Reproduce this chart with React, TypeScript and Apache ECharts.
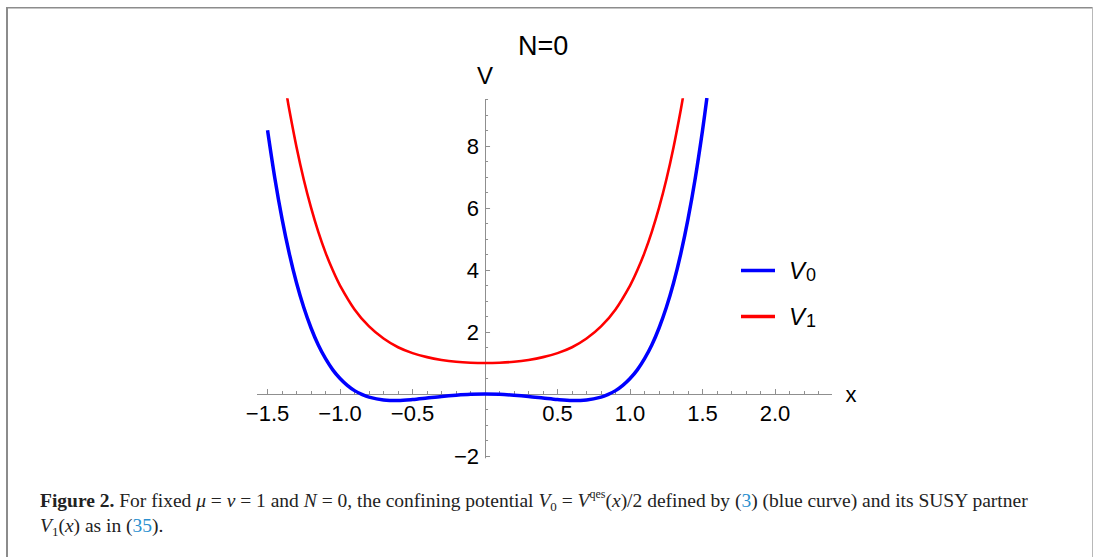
import React, { useEffect, useRef } from 'react';
import * as echarts from 'echarts';

// V0 (blue) sampled from the figure
const blueX = [-1.5, -1.45, -1.4, -1.35, -1.3, -1.25, -1.2, -1.15, -1.1, -1.05, -1.0, -0.95, -0.9, -0.85, -0.8, -0.7, -0.6, -0.5, -0.4, -0.3, -0.2, -0.1, 0,
  0.1, 0.2, 0.3, 0.4, 0.5, 0.6, 0.7, 0.8, 0.85, 0.9, 0.95, 1.0, 1.05, 1.1, 1.15, 1.2, 1.25, 1.3, 1.35, 1.4, 1.45, 1.5, 1.53];
const blueV = [8.51, 6.97, 5.65, 4.53, 3.58, 2.79, 2.13, 1.58, 1.14, 0.78, 0.5, 0.28, 0.11, -0.01, -0.1, -0.19, -0.21, -0.18, -0.13, -0.08, -0.04, -0.01, 0,
  -0.01, -0.04, -0.08, -0.13, -0.18, -0.21, -0.19, -0.1, -0.01, 0.11, 0.28, 0.5, 0.78, 1.14, 1.58, 2.13, 2.79, 3.58, 4.53, 5.65, 6.97, 8.51, 9.55];

// V1 (red) sampled from the figure
const redX = [-1.37, -1.35, -1.3, -1.25, -1.2, -1.15, -1.1, -1.05, -1.0, -0.9, -0.8, -0.7, -0.6, -0.5, -0.4, -0.3, -0.2, -0.1, 0,
  0.1, 0.2, 0.3, 0.4, 0.5, 0.6, 0.7, 0.8, 0.9, 1.0, 1.05, 1.1, 1.15, 1.2, 1.25, 1.3, 1.35, 1.37];
const redV = [9.71, 9.17, 7.96, 6.91, 6.01, 5.23, 4.56, 3.99, 3.5, 2.73, 2.18, 1.79, 1.51, 1.32, 1.19, 1.1, 1.04, 1.01, 1.0,
  1.01, 1.04, 1.1, 1.19, 1.32, 1.51, 1.79, 2.18, 2.73, 3.5, 3.99, 4.56, 5.23, 6.01, 6.91, 7.96, 9.17, 9.71];

const seriesNames = ['V0', 'V1'];
const titleText = 'N=0';

const xLabelTicks = [-1.5, -1, -0.5, 0.5, 1, 1.5, 2];
const xMinorTicks = [-1.5, -1.4, -1.3, -1.2, -1.1, -1.0, -0.9, -0.8, -0.7, -0.6, -0.5, -0.4, -0.3, -0.2, -0.1,
  0.1, 0.2, 0.3, 0.4, 0.5, 0.6, 0.7, 0.8, 0.9, 1.0, 1.1, 1.2, 1.3, 1.4, 1.5, 1.6, 1.7, 1.8, 1.9, 2.0, 2.1, 2.2, 2.3];
const yLabelTicks = [-2, 2, 4, 6, 8];
const yMinorTicks = [-2, -1.5, -1, -0.5, 0.5, 1, 1.5, 2, 2.5, 3, 3.5, 4, 4.5, 5, 5.5, 6, 6.5, 7, 7.5, 8, 8.5, 9, 9.5];

const X_MIN = -1.57, X_MAX = 2.39, Y_MIN = -2.06, Y_MAX = 9.5;

const AXIS_GRAY = '#8f8f8f';
const SANS = 'Liberation Sans, Arial, sans-serif';
const SERIF = 'Liberation Serif, Times New Roman, serif';

const fmtX = (v: number) => (v < 0 ? '\u2212' : '') + Math.abs(v).toFixed(1);
const fmtY = (v: number) => (v < 0 ? '\u2212' : '') + Math.abs(v).toString();

// grid geometry (pixels)
const G_LEFT = 257.4, G_RIGHT_X = 831.6, G_TOP = 99.5, G_BOTTOM_Y = 457.9;

export default function App() {
  const ref = useRef<HTMLDivElement>(null);

  useEffect(() => {
    if (!ref.current) return;
    const chart = echarts.init(ref.current, null, { renderer: 'svg' });

    const blueData = blueX.map((x, i) => [x, blueV[i]]);
    const redData = redX.map((x, i) => [x, redV[i]]);

    // offsets that move the axes onto the zero lines of the other axis
    const plotW = G_RIGHT_X - G_LEFT;
    const plotH = G_BOTTOM_Y - G_TOP;
    const zeroXpx = G_LEFT + ((0 - X_MIN) / (X_MAX - X_MIN)) * plotW;
    const zeroYpx = G_TOP + ((Y_MAX - 0) / (Y_MAX - Y_MIN)) * plotH;
    const xOffset = -(G_BOTTOM_Y - zeroYpx);
    const yOffset = -(zeroXpx - G_LEFT);

    const commonX = {
      type: 'value',
      min: X_MIN,
      max: X_MAX,
      position: 'bottom',
      offset: xOffset,
      splitLine: { show: false },
    };
    const commonY = {
      type: 'value',
      min: Y_MIN,
      max: Y_MAX,
      position: 'left',
      offset: yOffset,
      splitLine: { show: false },
    };

    const caption1 =
      '{b|Figure 2.}{r| For fixed }{i|\u03bc}{r| = }{i|\u03bd}{r| = 1 and }{i|N}{r| = 0, the confining potential }' +
      '{i|V}{sub|0}{r| = }{i|V}{sup|qes}{r|(}{i|x}{r|)/2 defined by (}{l|3}{r|) (blue curve) and its SUSY partner}';
    const caption2 = '{i|V}{sub|1}{r|(}{i|x}{r|) as in (}{l|35}{r|).}';

    const capFont = 19.5;
    const option: any = {
      animation: false,
      textStyle: { fontFamily: SANS },
      title: {
        text: titleText,
        left: 513,
        top: 27,
        textStyle: { fontFamily: SANS, fontSize: 27, fontWeight: 'normal', color: '#000' },
      },
      legend: {
        orient: 'vertical',
        left: 741,
        top: 257,
        padding: 0,
        itemWidth: 34,
        itemHeight: 3.5,
        itemGap: 19,
        icon: 'rect',
        selectedMode: false,
        data: seriesNames,
        formatter: (name: string) => `{v|V}{s|${name.slice(1)}}`,
        textStyle: {
          rich: {
            v: { fontFamily: SANS, fontStyle: 'italic', fontSize: 24, color: '#000', padding: [0, 1, 0, 9], lineHeight: 30 },
            s: { fontFamily: SANS, fontSize: 18, color: '#000', padding: [9, 0, 0, 0], lineHeight: 18 },
          },
        },
      },
      grid: {
        left: G_LEFT,
        right: 1095 - G_RIGHT_X,
        top: G_TOP,
        bottom: 557 - G_BOTTOM_Y,
        containLabel: false,
      },
      xAxis: [
        {
          ...commonX,
          name: 'x',
          nameLocation: 'end',
          nameGap: 14,
          nameTextStyle: { fontFamily: SANS, fontSize: 22, color: '#000', verticalAlign: 'middle' },
          axisLine: { show: true, onZero: false, lineStyle: { color: AXIS_GRAY, width: 1 } },
          axisTick: { show: true, inside: true, length: 5, customValues: xLabelTicks, lineStyle: { color: AXIS_GRAY } },
          axisLabel: { show: true, customValues: xLabelTicks, formatter: fmtX, fontFamily: SANS, fontSize: 22, color: '#000', margin: 8 },
        },
        {
          ...commonX,
          axisLine: { show: false, onZero: false },
          axisTick: { show: true, inside: true, length: 3, customValues: xMinorTicks, lineStyle: { color: AXIS_GRAY } },
          axisLabel: { show: false },
        },
      ],
      yAxis: [
        {
          ...commonY,
          name: 'V',
          nameLocation: 'end',
          nameGap: 12,
          nameTextStyle: { fontFamily: SANS, fontSize: 24, color: '#000' },
          axisLine: { show: true, onZero: false, lineStyle: { color: AXIS_GRAY, width: 1 } },
          axisTick: { show: true, inside: true, length: 5, customValues: yLabelTicks, lineStyle: { color: AXIS_GRAY } },
          axisLabel: { show: true, customValues: yLabelTicks, formatter: fmtY, fontFamily: SANS, fontSize: 22, color: '#000', margin: 6 },
        },
        {
          ...commonY,
          axisLine: { show: false, onZero: false },
          axisTick: { show: true, inside: true, length: 3, customValues: yMinorTicks, lineStyle: { color: AXIS_GRAY } },
          axisLabel: { show: false },
        },
      ],
      series: [
        {
          name: seriesNames[0],
          type: 'line',
          xAxisIndex: 0,
          yAxisIndex: 0,
          data: blueData,
          showSymbol: false,
          smooth: 0.3,
          clip: true,
          color: '#0000ff',
          lineStyle: { color: '#0000ff', width: 3.5 },
          z: 3,
        },
        {
          name: seriesNames[1],
          type: 'line',
          xAxisIndex: 0,
          yAxisIndex: 0,
          data: redData,
          showSymbol: false,
          smooth: 0.3,
          clip: true,
          color: '#ff0000',
          lineStyle: { color: '#ff0000', width: 2.6 },
          z: 2,
        },
      ],
      graphic: [
        { type: 'rect', shape: { x: 6, y: 7, width: 1087, height: 1.5 }, style: { fill: '#8c8c8c' }, silent: true },
        { type: 'rect', shape: { x: 6, y: 7, width: 2, height: 560 }, style: { fill: '#8c8c8c' }, silent: true },
        { type: 'rect', shape: { x: 1092, y: 7, width: 1, height: 560 }, style: { fill: '#b8b8b8' }, silent: true },
        {
          type: 'text',
          left: 40,
          top: 488,
          silent: true,
          style: {
            text: caption1 + '\n' + caption2,
            fill: '#222',
            font: `${capFont}px ${SERIF}`,
            rich: {
              r: { fontFamily: SERIF, fontSize: capFont, lineHeight: 25, fill: '#222' },
              b: { fontFamily: SERIF, fontSize: capFont, fontWeight: 'bold', lineHeight: 25, fill: '#222' },
              i: { fontFamily: SERIF, fontSize: capFont, fontStyle: 'italic', lineHeight: 25, fill: '#222' },
              l: { fontFamily: SERIF, fontSize: capFont, lineHeight: 25, fill: '#2b8fcf' },
              sub: { fontFamily: SERIF, fontSize: 13, lineHeight: 18, verticalAlign: 'bottom', fill: '#222' },
              sup: { fontFamily: SERIF, fontSize: 12, lineHeight: 13, verticalAlign: 'top', fill: '#222' },
            },
          },
        },
      ],
    };

    chart.setOption(option);
    return () => chart.dispose();
  }, []);

  return (
    <div
      ref={ref}
      style={{ position: 'absolute', left: 0, top: 0, width: 1095, height: 557, background: '#fff' }}
    />
  );
}
